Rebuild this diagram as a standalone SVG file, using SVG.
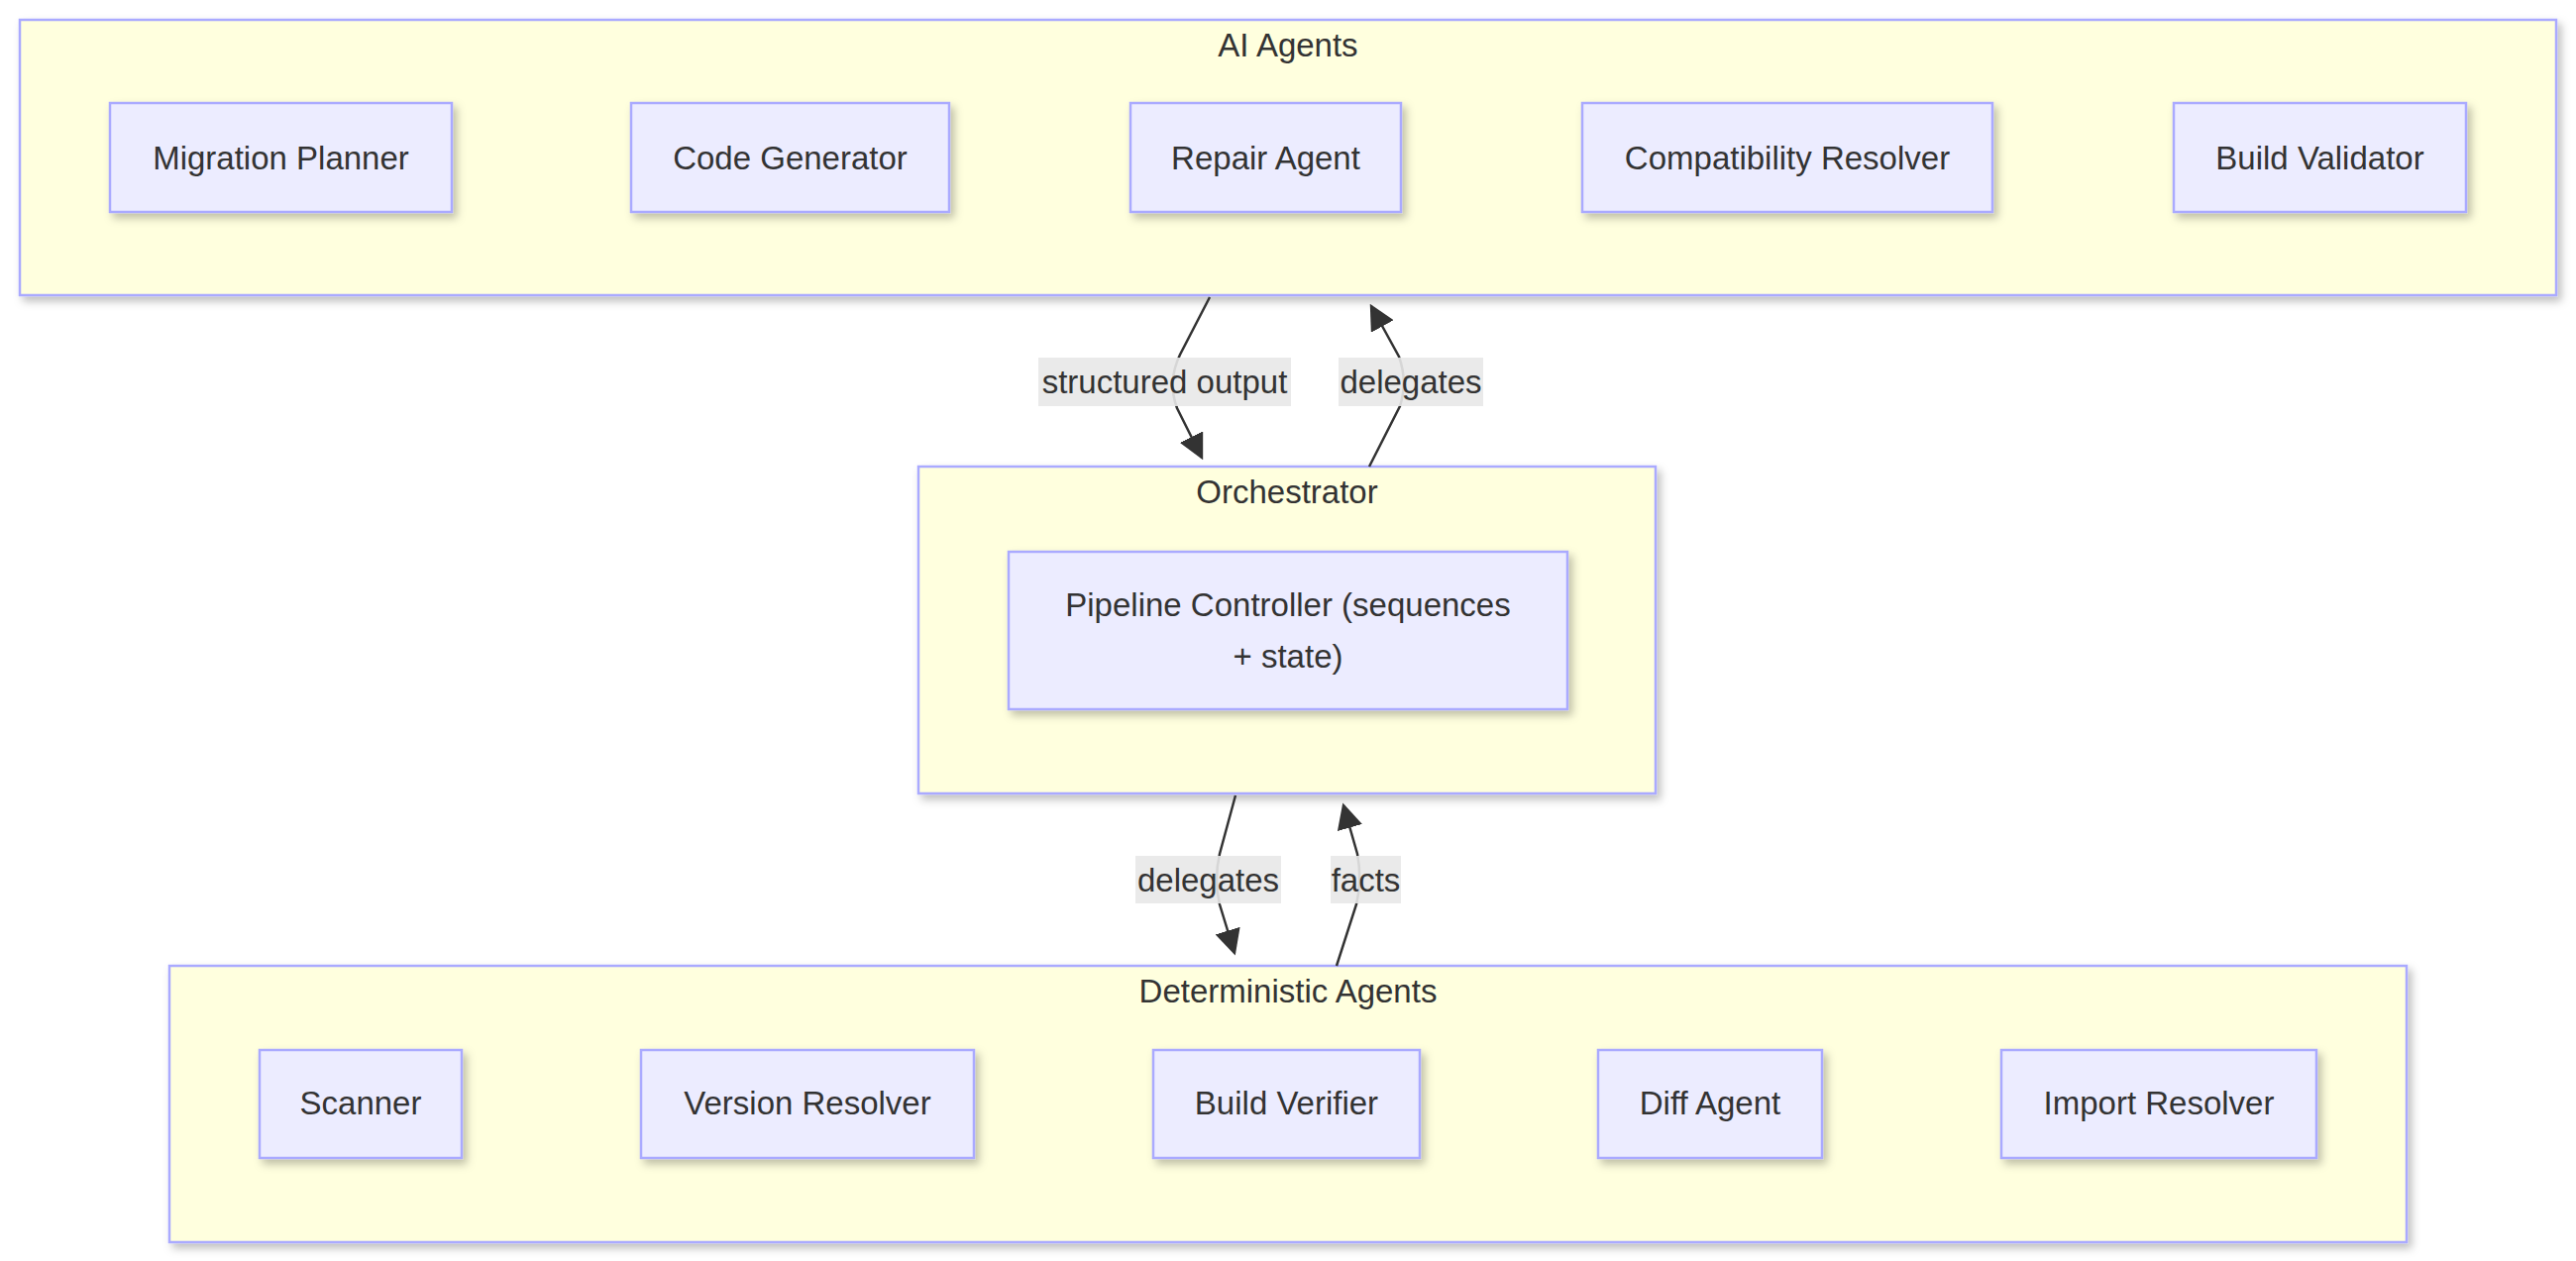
<svg xmlns="http://www.w3.org/2000/svg" width="2600" height="1273" viewBox="0 0 2600 1273">
<style>
.cluster{fill:#ffffde;stroke:#aaaaff;stroke-width:2.5;filter:url(#sh)}
.node{fill:#ececff;stroke:#aaaaff;stroke-width:2.5;filter:url(#sh)}
text{font-family:"Liberation Sans",Arial,sans-serif;font-size:33px;fill:#333;text-anchor:middle;dominant-baseline:central}
.edge{fill:none;stroke:#333;stroke-width:2.5;marker-end:url(#arrow)}
.lbl{fill:#e8e8e8;opacity:0.9}
</style>
<defs>
<filter id="sh" x="-10%" y="-10%" width="130%" height="140%">
<feDropShadow dx="4" dy="5" stdDeviation="4" flood-color="#000" flood-opacity="0.25"/>
</filter>
<marker id="arrow" viewBox="0 0 10 10" refX="9" refY="5" markerWidth="26" markerHeight="26" markerUnits="userSpaceOnUse" orient="auto">
<path d="M0,0 L10,5 L0,10 z" fill="#333"/>
</marker>
</defs>
<rect width="2600" height="1273" fill="#ffffff"/>
<g id="cluster-ai">
<rect class="cluster" x="20" y="20" width="2560" height="278"/>
<text x="1300" y="45">AI Agents</text>
</g>
<g id="cluster-orch">
<rect class="cluster" x="927" y="471" width="744" height="330"/>
<text x="1299" y="496">Orchestrator</text>
</g>
<g id="cluster-det">
<rect class="cluster" x="171" y="975" width="2258" height="279"/>
<text x="1300" y="1000">Deterministic Agents</text>
</g>
<g id="migration-planner"><rect class="node" x="111" y="104" width="345" height="110"/><text x="283.5" y="159">Migration Planner</text></g>
<g id="code-generator"><rect class="node" x="637" y="104" width="321" height="110"/><text x="797.5" y="159">Code Generator</text></g>
<g id="repair-agent"><rect class="node" x="1141" y="104" width="273" height="110"/><text x="1277.5" y="159">Repair Agent</text></g>
<g id="compatibility-resolver"><rect class="node" x="1597" y="104" width="414" height="110"/><text x="1804" y="159">Compatibility Resolver</text></g>
<g id="build-validator"><rect class="node" x="2194" y="104" width="295" height="110"/><text x="2341.5" y="159">Build Validator</text></g>
<g id="pipeline-controller"><rect class="node" x="1018" y="557" width="564" height="159"/><text x="1300" y="610">Pipeline Controller (sequences</text><text x="1300" y="662">+ state)</text></g>
<g id="scanner"><rect class="node" x="262" y="1060" width="204" height="109"/><text x="364" y="1113">Scanner</text></g>
<g id="version-resolver"><rect class="node" x="647" y="1060" width="336" height="109"/><text x="815" y="1113">Version Resolver</text></g>
<g id="build-verifier"><rect class="node" x="1164" y="1060" width="269" height="109"/><text x="1298.5" y="1113">Build Verifier</text></g>
<g id="diff-agent"><rect class="node" x="1613" y="1060" width="226" height="109"/><text x="1726" y="1113">Diff Agent</text></g>
<g id="import-resolver"><rect class="node" x="2020" y="1060" width="318" height="109"/><text x="2179" y="1113">Import Resolver</text></g>
<g id="connectors">
<path class="edge" d="M1221,300 L1191,358 Q1178,385 1188,412 L1213,462"/>
<path class="edge" d="M1382,471 L1413,410 Q1421,385 1412,360 L1384,309"/>
<path class="edge" d="M1247,803 L1231,862 Q1225,888 1231,913 L1246,962"/>
<path class="edge" d="M1349,975 L1369,913 Q1375,888 1370,862 L1356,813"/>
<rect class="lbl" x="1048" y="361" width="255" height="49"/>
<text x="1175.5" y="385">structured output</text>
<rect class="lbl" x="1351" y="361" width="146" height="49"/>
<text x="1424" y="385">delegates</text>
<rect class="lbl" x="1146" y="864" width="147" height="48"/>
<text x="1219.5" y="888">delegates</text>
<rect class="lbl" x="1343" y="864" width="71" height="48"/>
<text x="1378.5" y="888">facts</text>
</g>
</svg>
